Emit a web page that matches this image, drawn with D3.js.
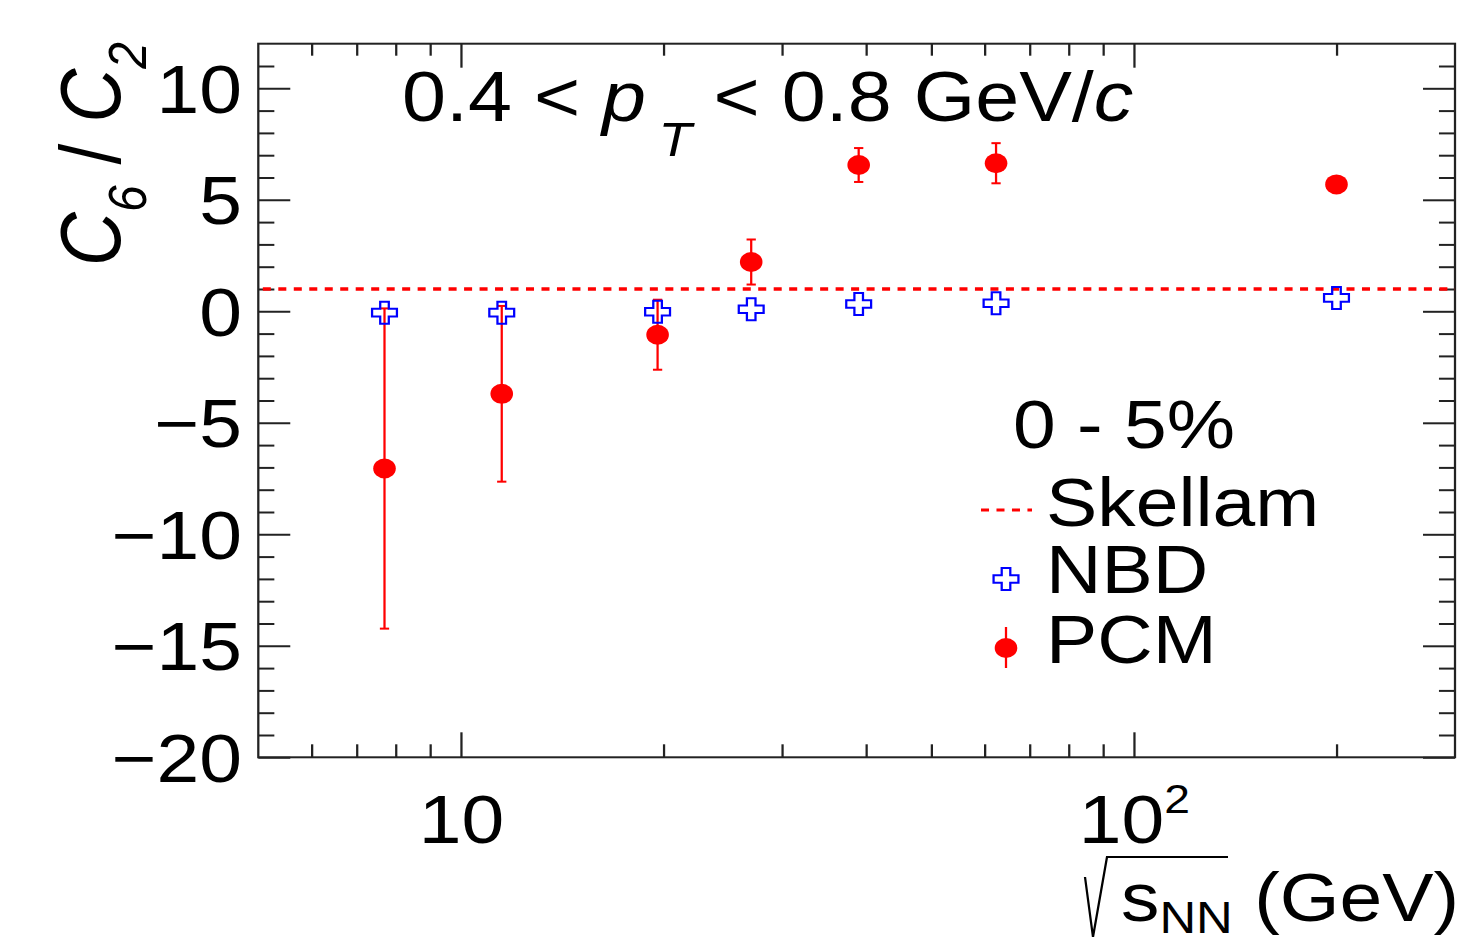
<!DOCTYPE html>
<html>
<head>
<meta charset="utf-8">
<script src="https://cdn.jsdelivr.net/npm/d3@7"></script>
<style>
  body { margin: 0; background: #fff; }
  svg { display: block; }
  text { font-family: "Liberation Sans", Arial, Helvetica, sans-serif; fill: #000; }
</style>
</head>
<body>
<svg id="chart" width="1457" height="937"></svg>
<script>
// collision energies (GeV) and C6/C2 values
var energies = [7.7, 11.5, 19.6, 27, 39, 62.4, 200];
var pcmValues = [-7.05, -3.70, -1.05, 2.21, 6.56, 6.64, 5.69];
var pcmErrors = [7.18, 3.94, 1.57, 1.01, 0.76, 0.90, 0.25];
var nbdValues = [-0.06, -0.06, -0.02, 0.09, 0.33, 0.36, 0.60];
var skellamValue = 1;

var xMajorTicks = [10, 100];
var xMinorTicks = [6, 7, 8, 9, 20, 30, 40, 50, 60, 70, 80, 90, 200];
var yMajorTicks = [-20, -15, -10, -5, 0, 5, 10];
var yMinorTicks = [-19, -18, -17, -16, -14, -13, -12, -11, -9, -8, -7, -6,
                   -4, -3, -2, -1, 1, 2, 3, 4, 6, 7, 8, 9, 11];

var legendNames = ["Skellam", "NBD", "PCM"];

// the original picture is a bit wider than it is tall, so everything is
// drawn in a narrower frame and stretched sideways
var SX = 1.13;
var frame = { left: 258.3 / SX, right: 1455 / SX, top: 43.7, bottom: 757.3 };
var fontSize = 68;

var x = d3.scaleLog().domain([5, 300]).range([frame.left, frame.right]);
var y = d3.scaleLinear().domain([-20, 12]).range([frame.bottom, frame.top]);

var svg = d3.select("#chart");
var g = svg.append("g").attr("transform", "scale(" + SX + ",1)");

function minus(d) { return d < 0 ? "\u2212" + Math.abs(d) : "" + d; }

function styleAxis(sel) {
  sel.select(".domain").remove();
  sel.selectAll(".tick line").attr("stroke", "#222").attr("stroke-width", 2);
  sel.selectAll(".tick text").style("font-size", fontSize + "px").attr("fill", "#000");
}

// y axis, ticks pointing inwards like ROOT
g.append("g")
  .attr("transform", "translate(" + frame.left + ",0)")
  .call(d3.axisLeft(y).tickValues(yMajorTicks).tickSizeInner(-28.3).tickSizeOuter(0)
        .tickPadding(14.4).tickFormat(minus))
  .call(styleAxis)
  .selectAll(".tick text").attr("dy", "0.35em");

g.append("g")
  .attr("transform", "translate(" + frame.left + ",0)")
  .call(d3.axisLeft(y).tickValues(yMinorTicks).tickSizeInner(-14.2).tickSizeOuter(0).tickFormat(""))
  .call(styleAxis);

g.append("g")
  .attr("transform", "translate(" + frame.right + ",0)")
  .call(d3.axisRight(y).tickValues(yMajorTicks).tickSizeInner(-28.3).tickSizeOuter(0).tickFormat(""))
  .call(styleAxis);

g.append("g")
  .attr("transform", "translate(" + frame.right + ",0)")
  .call(d3.axisRight(y).tickValues(yMinorTicks).tickSizeInner(-14.2).tickSizeOuter(0).tickFormat(""))
  .call(styleAxis);

// x axis (log)
var xAxisG = g.append("g")
  .attr("transform", "translate(0," + frame.bottom + ")")
  .call(d3.axisBottom(x).tickValues(xMajorTicks).tickSizeInner(-25).tickSizeOuter(0)
        .tickPadding(37.4).tickFormat(function() { return "10"; }))
  .call(styleAxis);

xAxisG.selectAll(".tick text")
  .filter(function(d) { return d === 100; })
  .append("tspan")
  .attr("dy", -30)
  .style("font-size", "41px")
  .text("2");

g.append("g")
  .attr("transform", "translate(0," + frame.bottom + ")")
  .call(d3.axisBottom(x).tickValues(xMinorTicks).tickSizeInner(-13).tickSizeOuter(0).tickFormat(""))
  .call(styleAxis);

g.append("g")
  .attr("transform", "translate(0," + frame.top + ")")
  .call(d3.axisTop(x).tickValues(xMajorTicks).tickSizeInner(-24).tickSizeOuter(0).tickFormat(""))
  .call(styleAxis);

g.append("g")
  .attr("transform", "translate(0," + frame.top + ")")
  .call(d3.axisTop(x).tickValues(xMinorTicks).tickSizeInner(-12).tickSizeOuter(0).tickFormat(""))
  .call(styleAxis);

// frame
g.append("rect")
  .attr("x", frame.left)
  .attr("y", frame.top)
  .attr("width", frame.right - frame.left)
  .attr("height", frame.bottom - frame.top)
  .attr("fill", "none")
  .attr("stroke", "#222")
  .attr("stroke-width", 2);

// Skellam baseline
g.append("line")
  .attr("x1", x(5) + 4)
  .attr("x2", x(300))
  .attr("y1", y(skellamValue))
  .attr("y2", y(skellamValue))
  .attr("stroke", "#ff0000")
  .attr("stroke-width", 3.5)
  .attr("stroke-dasharray", "7.1 6.6");

var pcm = energies.map(function(e, i) { return { e: e, v: pcmValues[i], err: pcmErrors[i] }; });
var nbd = energies.map(function(e, i) { return { e: e, v: nbdValues[i] }; });

// PCM error bars
var capHalf = 4.1;
var bars = g.selectAll(".errbar").data(pcm).enter().append("g").attr("class", "errbar")
  .attr("stroke", "#ff0000").attr("stroke-width", 2);
bars.append("line")
  .attr("x1", function(d) { return x(d.e); })
  .attr("x2", function(d) { return x(d.e); })
  .attr("y1", function(d) { return y(d.v - d.err); })
  .attr("y2", function(d) { return y(d.v + d.err); });
bars.append("line")
  .attr("x1", function(d) { return x(d.e) - capHalf; })
  .attr("x2", function(d) { return x(d.e) + capHalf; })
  .attr("y1", function(d) { return y(d.v - d.err); })
  .attr("y2", function(d) { return y(d.v - d.err); });
bars.append("line")
  .attr("x1", function(d) { return x(d.e) - capHalf; })
  .attr("x2", function(d) { return x(d.e) + capHalf; })
  .attr("y1", function(d) { return y(d.v + d.err); })
  .attr("y2", function(d) { return y(d.v + d.err); });

// open cross marker
var h = 11, a = 3.8;
function crossPath(cx, cy) {
  return "M" + (cx - a) + "," + (cy - h) + "H" + (cx + a) + "V" + (cy - a) + "H" + (cx + h) +
         "V" + (cy + a) + "H" + (cx + a) + "V" + (cy + h) + "H" + (cx - a) + "V" + (cy + a) +
         "H" + (cx - h) + "V" + (cy - a) + "H" + (cx - a) + "Z";
}

g.selectAll(".pcm").data(pcm).enter().append("circle")
  .attr("class", "pcm")
  .attr("cx", function(d) { return x(d.e); })
  .attr("cy", function(d) { return y(d.v); })
  .attr("r", 10)
  .attr("fill", "#ff0000");

g.selectAll(".nbd").data(nbd).enter().append("path")
  .attr("class", "nbd")
  .attr("d", function(d) { return crossPath(x(d.e), y(d.v)); })
  .attr("fill", "none")
  .attr("stroke", "#0000ff")
  .attr("stroke-width", 2);

// title
var title = g.append("text")
  .attr("x", 402 / SX)
  .attr("y", 121)
  .style("font-size", "70px");
title.append("tspan").text("0.4 < ");
title.append("tspan").style("font-style", "italic").text("p");
title.append("tspan").style("font-style", "italic").style("font-size", "48px")
  .attr("dx", 11).attr("dy", 35).text("T");
title.append("tspan").attr("dy", -35).text(" < 0.8 GeV/");
title.append("tspan").style("font-style", "italic").text("c");

// y axis title
var yTitle = g.append("text")
  .attr("transform", "translate(" + (120 / SX) + ",42) rotate(-90)")
  .attr("text-anchor", "end")
  .style("font-size", "75px");
yTitle.append("tspan").style("font-style", "italic").text("C");
yTitle.append("tspan").style("font-style", "italic").style("font-size", "48px").attr("dy", 23).text("6");
yTitle.append("tspan").attr("dy", -23).text(" / ");
yTitle.append("tspan").style("font-style", "italic").text("C");
yTitle.append("tspan").style("font-style", "italic").style("font-size", "48px").attr("dy", 23).text("2");

// x axis title
g.append("path")
  .attr("d", "M" + (1085 / SX) + ",877L" + (1093 / SX) + ",937L" + (1107 / SX) + ",857H" + (1228 / SX))
  .attr("fill", "none")
  .attr("stroke", "#000")
  .attr("stroke-width", 2);
var xTitle = g.append("text")
  .attr("x", 1121 / SX)
  .attr("y", 921)
  .style("font-size", fontSize + "px");
xTitle.append("tspan").text("s");
xTitle.append("tspan").style("font-size", "45px").attr("dy", 12).text("NN");
xTitle.append("tspan").attr("dy", -12).text(" (GeV)");

// centrality label
g.append("text")
  .attr("x", 1013 / SX)
  .attr("y", 448)
  .style("font-size", fontSize + "px")
  .text("0 - 5%");

// legend
var legendY = [510, 579, 648];
var legendBase = [526, 593, 663];
var lx = 1006 / SX;

g.append("line")
  .attr("x1", 981 / SX).attr("x2", 1032 / SX)
  .attr("y1", legendY[0]).attr("y2", legendY[0])
  .attr("stroke", "#ff0000").attr("stroke-width", 3)
  .attr("stroke-dasharray", "7.1 6.6");

g.append("path")
  .attr("d", crossPath(lx, legendY[1]))
  .attr("fill", "none")
  .attr("stroke", "#0000ff")
  .attr("stroke-width", 2);

g.append("line")
  .attr("x1", lx).attr("x2", lx)
  .attr("y1", legendY[2] - 21).attr("y2", legendY[2] + 20)
  .attr("stroke", "#ff0000").attr("stroke-width", 2);
g.append("circle")
  .attr("cx", lx).attr("cy", legendY[2]).attr("r", 10).attr("fill", "#ff0000");

g.selectAll(".legend-label").data(legendNames).enter().append("text")
  .attr("class", "legend-label")
  .attr("x", 1046 / SX)
  .attr("y", function(d, i) { return legendBase[i]; })
  .style("font-size", fontSize + "px")
  .text(function(d) { return d; });
</script>
</body>
</html>
